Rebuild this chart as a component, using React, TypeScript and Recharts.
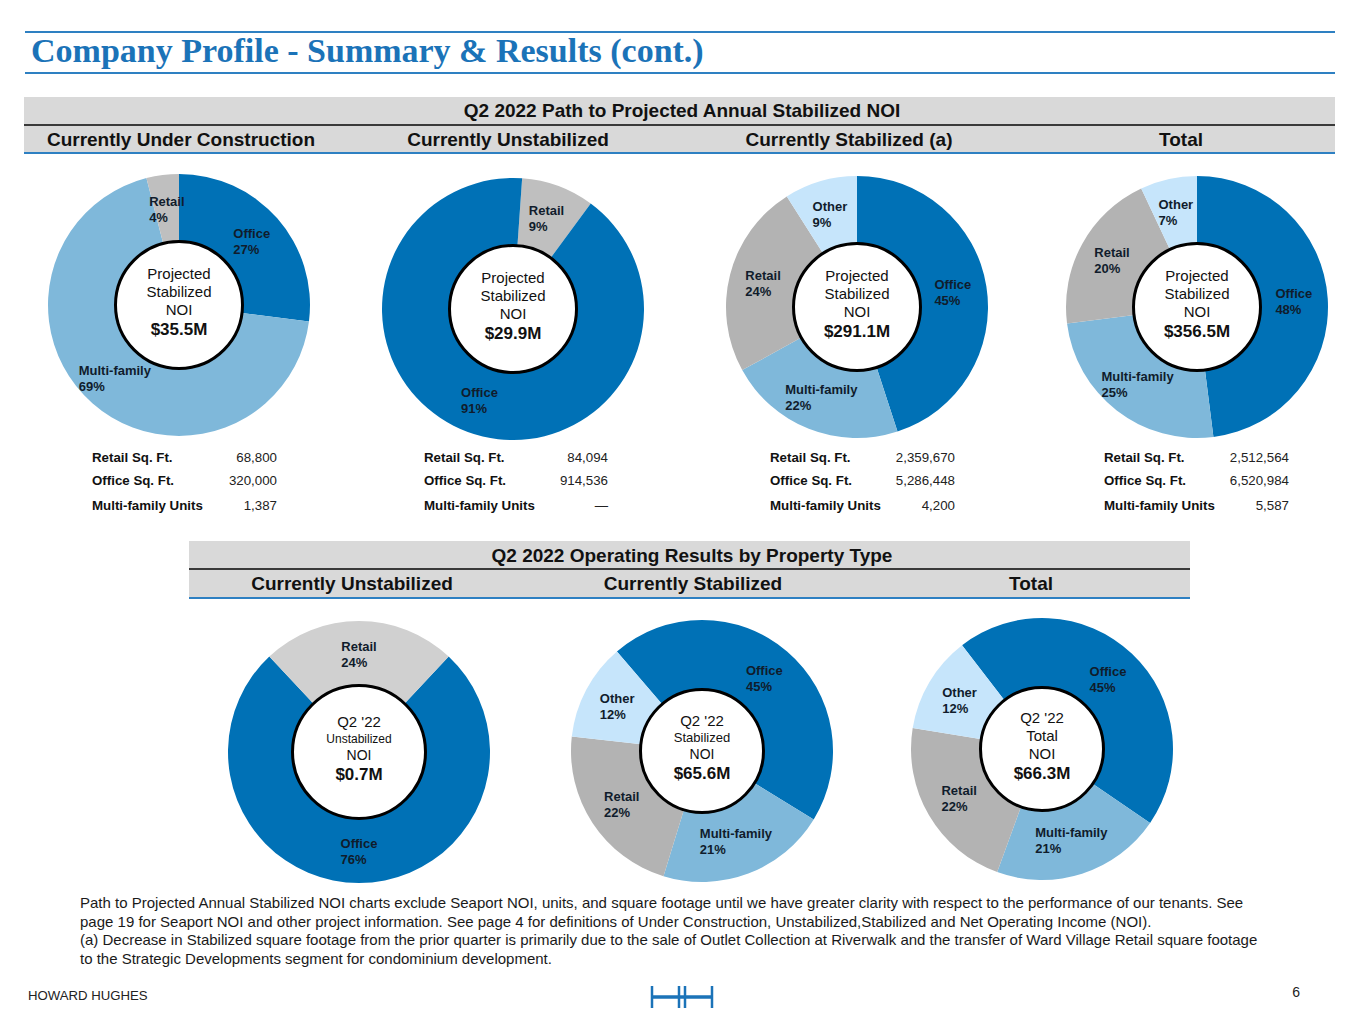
import React from 'react';
import { PieChart, Pie, Cell } from 'recharts';

const FONT = '"Liberation Sans", Arial, Helvetica, sans-serif';

// ---------- DATA ----------
const underConstructionNames = ['Office', 'Multi-family', 'Retail'];
const underConstructionValues = [27, 69, 4];

const unstabilizedNames = ['Retail', 'Office'];
const unstabilizedValues = [9, 91];

const stabilizedNames = ['Office', 'Multi-family', 'Retail', 'Other'];
const stabilizedValues = [45, 22, 24, 9];

const totalNames = ['Office', 'Multi-family', 'Retail', 'Other'];
const totalValues = [48, 25, 20, 7];

const opUnstabilizedNames = ['Office', 'Retail'];
const opUnstabilizedValues = [76, 24];

const opStabilizedNames = ['Office', 'Multi-family', 'Retail', 'Other'];
const opStabilizedValues = [45, 21, 22, 12];

const opTotalNames = ['Office', 'Multi-family', 'Retail', 'Other'];
const opTotalValues = [45, 21, 22, 12];

const statLabels = ['Retail Sq. Ft.', 'Office Sq. Ft.', 'Multi-family Units'];
const underConstructionStats = ['68,800', '320,000', '1,387'];
const unstabilizedStats = ['84,094', '914,536', '\u2014'];
const stabilizedStats = ['2,359,670', '5,286,448', '4,200'];
const totalStats = ['2,512,564', '6,520,984', '5,587'];

const topHeaders = ['Currently Under Construction', 'Currently Unstabilized', 'Currently Stabilized (a)', 'Total'];
const bottomHeaders = ['Currently Unstabilized', 'Currently Stabilized', 'Total'];

const centerProjected = ['$35.5M', '$29.9M', '$291.1M', '$356.5M'];
const centerOperating = ['$0.7M', '$65.6M', '$66.3M'];
const centerOperatingSub = ['Unstabilized', 'Stabilized', 'Total'];

const footnoteLines = [
  'Path to Projected Annual Stabilized NOI charts exclude Seaport NOI, units, and square footage until we have greater clarity with respect to the performance of our tenants. See',
  'page 19 for Seaport NOI and other project information. See page 4 for definitions of Under Construction, Unstabilized,Stabilized and Net Operating Income (NOI).',
  '(a) Decrease in Stabilized square footage from the prior quarter is primarily due to the sale of Outlet Collection at Riverwalk and the transfer of Ward Village Retail square footage',
  'to the Strategic Developments segment for condominium development.',
];

// ---------- STYLE ----------
const COLORS: Record<string, string> = {
  Office: '#0071b6',
  'Multi-family': '#7fb8da',
  Retail: '#b3b3b3',
  Other: '#c6e5fb',
};
const TITLE_BLUE = '#1b73b8';
const LINE_BLUE = '#2e80c2';
const BAND = '#d9d9d9';

const RAD = Math.PI / 180;
let measureCtx: CanvasRenderingContext2D | null = null;
function measure(text: string, font: string) {
  if (!measureCtx) {
    const c = document.createElement('canvas');
    measureCtx = c.getContext('2d');
  }
  if (!measureCtx) return text.length * 7;
  measureCtx.font = font;
  return measureCtx.measureText(text).width;
}

const LABEL_FONT = `bold 13px ${FONT}`;

const renderLabel = (props: any) => {
  const { cx, cy, midAngle, innerRadius, outerRadius } = props;
  const name = props.payload?.name ?? props.name;
  const value = props.payload?.value ?? props.value;
  const r = (innerRadius + outerRadius) / 2;
  const x = cx + r * Math.cos(-midAngle * RAD);
  const y = cy + r * Math.sin(-midAngle * RAD);
  const pct = `${value}%`;
  const w = Math.max(measure(name, LABEL_FONT), measure(pct, LABEL_FONT));
  const lx = x - w / 2;
  return (
    <text fontFamily={FONT} fontWeight="bold" fontSize={13} fill="#101c2c" dominantBaseline="central">
      <tspan x={lx} y={y - 8}>{name}</tspan>
      <tspan x={lx} y={y + 8}>{pct}</tspan>
    </text>
  );
};

type DonutProps = {
  names: string[];
  values: number[];
  cx: number;
  cy: number;
  startCW: number;
  retailColor?: string;
  holeR: number;
  lines: { text: string; size: number; bold?: boolean }[];
};

const SIZE = 290;
const OUTER = 131;

function Donut({ names, values, cx, cy, startCW, retailColor, holeR, lines }: DonutProps) {
  const data = names.map((n, i) => ({ name: n, value: values[i] }));
  const start = 90 - startCW;
  return (
    <>
      <div style={{ position: 'absolute', left: cx - SIZE / 2, top: cy - SIZE / 2, width: SIZE, height: SIZE }}>
        <PieChart width={SIZE} height={SIZE} margin={{ top: 0, right: 0, bottom: 0, left: 0 }}>
          <Pie
            data={data}
            dataKey="value"
            nameKey="name"
            cx={SIZE / 2}
            cy={SIZE / 2}
            innerRadius={holeR - 2}
            outerRadius={OUTER}
            startAngle={start}
            endAngle={start - 360}
            stroke="none"
            label={renderLabel}
            labelLine={false}
            isAnimationActive={false}
          >
            {data.map((d) => (
              <Cell key={d.name} fill={d.name === 'Retail' && retailColor ? retailColor : COLORS[d.name]} />
            ))}
          </Pie>
        </PieChart>
      </div>
      <div
        style={{
          position: 'absolute',
          left: cx - holeR,
          top: cy - holeR,
          width: holeR * 2,
          height: holeR * 2,
          boxSizing: 'border-box',
          borderRadius: '50%',
          border: '3.5px solid #000',
          background: '#fff',
          display: 'flex',
          flexDirection: 'column',
          alignItems: 'center',
          justifyContent: 'center',
          paddingBottom: 6,
          fontFamily: FONT,
          color: '#111',
        }}
      >
        {lines.map((l, i) => (
          <div
            key={i}
            style={{
              fontSize: l.size,
              fontWeight: l.bold ? 'bold' : 'normal',
              lineHeight: `${l.bold ? 21 : Math.max(16, Math.round(l.size * 1.23))}px`,
              whiteSpace: 'nowrap',
            }}
          >
            {l.text}
          </div>
        ))}
      </div>
    </>
  );
}

function T({ x, y, size, bold, anchor = 'start', color = '#111', family = FONT, children }: any) {
  const tx = anchor === 'middle' ? 'translateX(-50%)' : anchor === 'end' ? 'translateX(-100%)' : 'none';
  return (
    <div
      style={{
        position: 'absolute',
        left: x,
        top: y - size * 0.6,
        height: size * 1.2,
        lineHeight: `${size * 1.2}px`,
        fontSize: size,
        fontWeight: bold ? 'bold' : 'normal',
        fontFamily: family,
        color,
        whiteSpace: 'nowrap',
        transform: tx,
      }}
    >
      {children}
    </div>
  );
}

function Rect({ x, y, w, h, c }: any) {
  return <div style={{ position: 'absolute', left: x, top: y, width: w, height: h, background: c }} />;
}

const projectedLines = (v: string) => [
  { text: 'Projected', size: 15 },
  { text: 'Stabilized', size: 15 },
  { text: 'NOI', size: 15 },
  { text: v, size: 17, bold: true },
];

const operatingLines = (sub: string, subSize: number, v: string) => [
  { text: "Q2 '22", size: 15 },
  { text: sub, size: subSize },
  { text: 'NOI', size: subSize === 15 ? 15 : 14 },
  { text: v, size: 17, bold: true },
];

const topCenters = [181, 508, 849, 1181];
const statLabelX = [92, 424, 770, 1104];
const statValueX = [277, 608, 955, 1289];
const statRowsY = [458, 481, 506];
const allStats = [underConstructionStats, unstabilizedStats, stabilizedStats, totalStats];
const bottomCenters = [352, 693, 1031];

export default function App() {
  return (
    <div style={{ position: 'absolute', left: 0, top: 0, width: 1365, height: 1024, background: '#fff', overflow: 'hidden' }}>
      {/* Title */}
      <Rect x={25} y={31} w={1310} h={2} c={LINE_BLUE} />
      <T x={31} y={51} size={34} bold color={TITLE_BLUE} family='"Liberation Serif", "Times New Roman", serif'>
        Company Profile - Summary &amp; Results (cont.)
      </T>
      <Rect x={25} y={72} w={1310} h={2} c={LINE_BLUE} />

      {/* Top header bands */}
      <Rect x={24} y={97} w={1311} h={28} c={BAND} />
      <Rect x={24} y={124} w={1311} h={1.5} c="#3a3a3a" />
      <Rect x={24} y={125.5} w={1311} h={27} c={BAND} />
      <Rect x={24} y={152} w={1311} h={2} c={LINE_BLUE} />
      <T x={682} y={111} size={19} bold anchor="middle">Q2 2022 Path to Projected Annual Stabilized NOI</T>
      {topHeaders.map((h, i) => (
        <T key={h} x={topCenters[i]} y={140} size={19} bold anchor="middle">{h}</T>
      ))}

      {/* Top donuts */}
      <Donut names={underConstructionNames} values={underConstructionValues} cx={179} cy={305} startCW={0} retailColor="#bfbfbf" holeR={65} lines={projectedLines(centerProjected[0])} />
      <Donut names={unstabilizedNames} values={unstabilizedValues} cx={513} cy={309} startCW={4} retailColor="#bfbfbf" holeR={65} lines={projectedLines(centerProjected[1])} />
      <Donut names={stabilizedNames} values={stabilizedValues} cx={857} cy={307} startCW={0} holeR={65} lines={projectedLines(centerProjected[2])} />
      <Donut names={totalNames} values={totalValues} cx={1197} cy={307} startCW={0} holeR={65} lines={projectedLines(centerProjected[3])} />

      {/* Stats */}
      {allStats.map((vals, ci) =>
        statLabels.map((lab, ri) => (
          <React.Fragment key={`${ci}-${ri}`}>
            <T x={statLabelX[ci]} y={statRowsY[ri]} size={13.3} bold>{lab}</T>
            <T x={statValueX[ci]} y={statRowsY[ri]} size={13.3} anchor="end" color="#222">{vals[ri]}</T>
          </React.Fragment>
        ))
      )}

      {/* Bottom header bands */}
      <Rect x={189} y={541} w={1001} h={28} c={BAND} />
      <Rect x={189} y={568} w={1001} h={1.5} c="#3a3a3a" />
      <Rect x={189} y={569.5} w={1001} h={27} c={BAND} />
      <Rect x={189} y={596.5} w={1001} h={2} c={LINE_BLUE} />
      <T x={692} y={556} size={19} bold anchor="middle">Q2 2022 Operating Results by Property Type</T>
      {bottomHeaders.map((h, i) => (
        <T key={h} x={bottomCenters[i]} y={584} size={19} bold anchor="middle">{h}</T>
      ))}

      {/* Bottom donuts */}
      <Donut names={opUnstabilizedNames} values={opUnstabilizedValues} cx={359} cy={752} startCW={43.2} retailColor="#d0d0d0" holeR={68} lines={operatingLines(centerOperatingSub[0], 12, centerOperating[0])} />
      <Donut names={opStabilizedNames} values={opStabilizedValues} cx={702} cy={751} startCW={319.5} holeR={63} lines={operatingLines(centerOperatingSub[1], 13, centerOperating[1])} />
      <Donut names={opTotalNames} values={opTotalValues} cx={1042} cy={749} startCW={322.4} holeR={63} lines={operatingLines(centerOperatingSub[2], 15, centerOperating[2])} />

      {/* Footnotes */}
      {footnoteLines.map((l, i) => (
        <T key={i} x={80} y={903 + i * 18.5} size={15} color="#1a1a1a">{l}</T>
      ))}

      {/* Footer */}
      <T x={28} y={996} size={13.2} color="#222">HOWARD HUGHES</T>
      <svg style={{ position: 'absolute', left: 645, top: 982, width: 75, height: 30 }} width={75} height={30}>
        <g stroke={TITLE_BLUE} fill="none">
          <line x1={7} y1={4} x2={7} y2={26} strokeWidth={2.5} />
          <line x1={34} y1={4} x2={34} y2={26} strokeWidth={2.5} />
          <line x1={40} y1={4} x2={40} y2={26} strokeWidth={2.5} />
          <line x1={67} y1={4} x2={67} y2={26} strokeWidth={2.5} />
          <line x1={7} y1={15} x2={67} y2={15} strokeWidth={3.5} />
        </g>
      </svg>
      <T x={1300} y={992} size={14} anchor="end" color="#222">6</T>
    </div>
  );
}
